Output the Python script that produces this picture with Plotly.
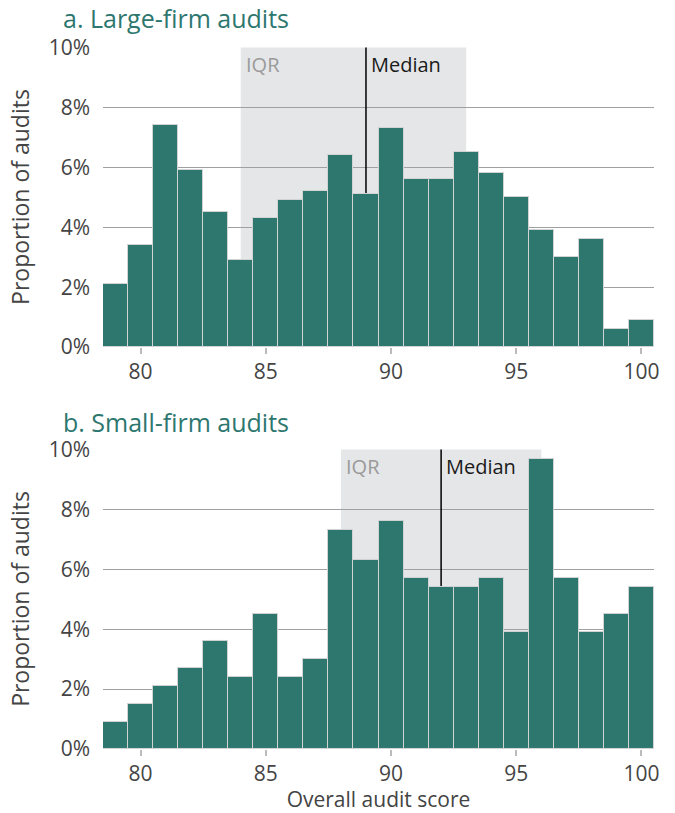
import plotly.graph_objects as go
from plotly.subplots import make_subplots

scores = list(range(79, 101))
large_pct = [2.1, 3.4, 7.4, 5.9, 4.5, 2.9, 4.3, 4.9, 5.2, 6.4, 5.1,
             7.3, 5.6, 5.6, 6.5, 5.8, 5.0, 3.9, 3.0, 3.6, 0.6, 0.9]
small_pct = [0.9, 1.5, 2.1, 2.7, 3.6, 2.4, 4.5, 2.4, 3.0, 7.3, 6.3,
             7.6, 5.7, 5.4, 5.4, 5.7, 3.9, 9.7, 5.7, 3.9, 4.5, 5.4]
large_iqr = (84, 93)
large_median = 89
small_iqr = (88, 96)
small_median = 92
panel_titles = ["a. Large-firm audits", "b. Small-firm audits"]
y_ticks = [0, 2, 4, 6, 8, 10]
y_ticklabels = ["0%", "2%", "4%", "6%", "8%", "10%"]
x_ticks = [80, 85, 90, 95, 100]

TEAL = "#2d776f"
FONT = "Open Sans"
GREY = "#444444"

fig = make_subplots(rows=2, cols=1, vertical_spacing=0.1453)
fig.update_layout(yaxis=dict(domain=[0.5726, 1.0]), yaxis2=dict(domain=[0.0, 0.4274]))

for i, (vals, iqr, med) in enumerate([(large_pct, large_iqr, large_median),
                                       (small_pct, small_iqr, small_median)]):
    row = i + 1
    fig.add_trace(go.Bar(x=scores, y=vals, width=1, marker=dict(color=TEAL,
                  line=dict(color="#d2d4d4", width=1)), showlegend=False,
                  hoverinfo="x+y"), row=row, col=1)
    xr = "x" if row == 1 else "x2"
    yr = "y" if row == 1 else "y2"
    fig.add_shape(type="rect", xref=xr, yref=yr, x0=iqr[0], x1=iqr[1], y0=0, y1=10,
                  fillcolor="#e5e6e8", line=dict(width=0), layer="below")
    fig.add_shape(type="line", xref=xr, yref=yr, x0=med, x1=med, y0=0, y1=10,
                  line=dict(color="black", width=1.5), layer="between")
    fig.add_annotation(xref=xr, yref=yr, x=iqr[0], y=10, text="IQR", showarrow=False,
                       xanchor="left", yanchor="top", xshift=3, yshift=-1,
                       font=dict(family=FONT, size=20, color="#9a9a9a"))
    fig.add_annotation(xref=xr, yref=yr, x=med, y=10, text="Median", showarrow=False,
                       xanchor="left", yanchor="top", xshift=3, yshift=-1,
                       font=dict(family=FONT, size=20, color="#1a1a1a"))
    fig.update_xaxes(range=[78.5, 100.5], tickvals=x_ticks, ticks="outside", ticklen=6,
                     tickcolor="#bbbbbb", tickwidth=2, showgrid=False, zeroline=False,
                     showline=False, automargin=False,
                     tickfont=dict(family=FONT, size=21, color=GREY),
                     row=row, col=1)
    fig.update_yaxes(range=[0, 10.02], tickvals=y_ticks, ticktext=y_ticklabels,
                     showgrid=True, gridcolor="#a0a0a0", gridwidth=1, zeroline=False,
                     showline=False, ticks="", ticklabelstandoff=12, automargin=False,
                     tickfont=dict(family=FONT, size=21, color=GREY),
                     title=dict(text="Proportion of audits", standoff=12,
                                font=dict(family=FONT, size=23, color=GREY)),
                     row=row, col=1)

fig.update_xaxes(title=dict(text="Overall audit score", standoff=9,
                            font=dict(family=FONT, size=21, color=GREY)), row=2, col=1)

fig.add_annotation(xref="paper", yref="paper", x=-0.0755, y=1.041, text=panel_titles[0],
                   showarrow=False, xanchor="left", yanchor="middle",
                   font=dict(family=FONT, size=25, color=TEAL))
fig.add_annotation(xref="paper", yref="paper", x=-0.0755, y=0.4655, text=panel_titles[1],
                   showarrow=False, xanchor="left", yanchor="middle",
                   font=dict(family=FONT, size=25, color=TEAL))

fig.update_layout(width=675, height=813, margin=dict(l=103, r=21, t=47, b=64),
                  plot_bgcolor="white", paper_bgcolor="white", bargap=0,
                  font=dict(family=FONT))

fig.write_html("out.html", config={"displayModeBar": False},
               post_script="document.body.style.margin='0';")
